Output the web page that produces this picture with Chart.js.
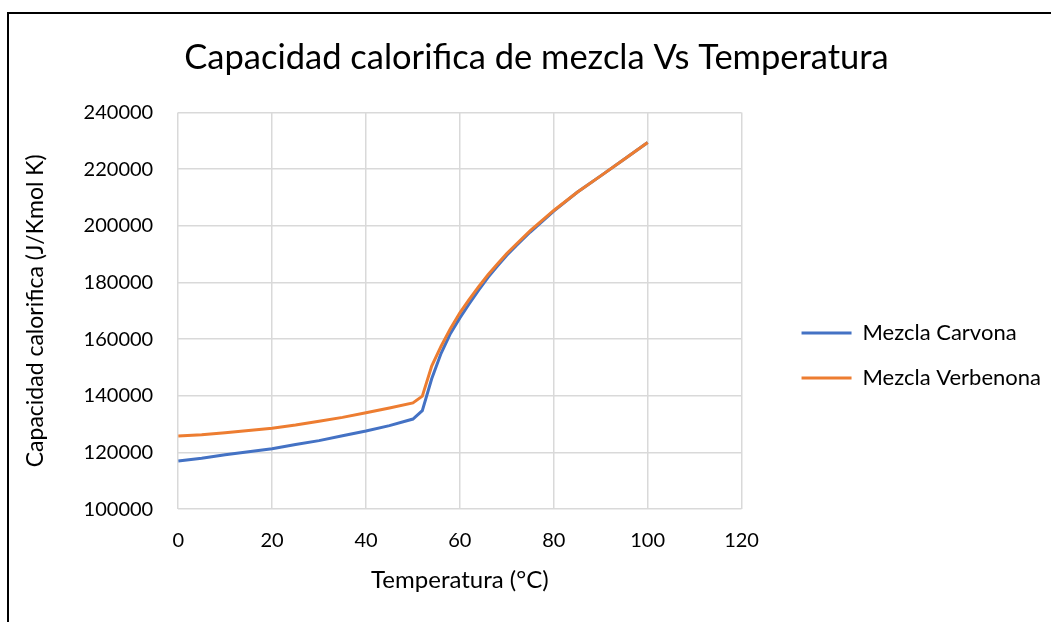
<!DOCTYPE html>
<html>
<head>
<meta charset="utf-8">
<script src="https://cdn.jsdelivr.net/npm/chart.js@4"></script>
<style>
  html, body { margin: 0; padding: 0; background: #fff; }
  #wrap { position: relative; width: 1051px; height: 622px; overflow: hidden; }
  #frame {
    position: absolute; left: 7px; top: 12px; width: 1060px; height: 640px;
    border: 2px solid #000; box-sizing: border-box; pointer-events: none;
  }
</style>
</head>
<body>
<div id="wrap">
  <canvas id="cpChart" width="1051" height="622"></canvas>
  <div id="frame"></div>
</div>
<script>
// ======================== DATA ========================
const temperatures = [0, 5, 10, 15, 20, 25, 30, 35, 40, 45, 50, 52, 54, 56, 58, 60, 62, 64, 66, 68, 70, 72, 75, 80, 85, 90, 95, 100];
const carvona = [117000, 118000, 119200, 120300, 121300, 122800, 124200, 125900, 127600, 129500, 131800, 134800, 146000, 155000, 162000, 167500, 172500, 177300, 181800, 185800, 189600, 193000, 197800, 205200, 211800, 217600, 223500, 229400];
const verbenona = [125800, 126300, 127000, 127800, 128600, 129700, 131000, 132400, 134000, 135700, 137500, 139900, 150500, 157500, 163800, 169300, 174000, 178500, 182700, 186500, 190200, 193500, 198300, 205400, 211800, 217600, 223500, 229400];
const seriesNames = ["Mezcla Carvona", "Mezcla Verbenona"];
const xTicks = [0, 20, 40, 60, 80, 100, 120];
const yTicks = [100000, 120000, 140000, 160000, 180000, 200000, 220000, 240000];

const FONT = "Lato, 'Open Sans', sans-serif";

// build points for the scatter datasets
function toPoints(xs, ys) {
  return xs.map((x, i) => ({ x: x, y: ys[i] }));
}

// ======================== CHART ========================
const ctx = document.getElementById("cpChart").getContext("2d");
new Chart(ctx, {
  type: "scatter",
  data: {
    datasets: [
      {
        label: seriesNames[0],
        data: toPoints(temperatures, carvona),
        showLine: true,
        borderColor: "#4472C4",
        backgroundColor: "#4472C4",
        borderWidth: 3,
        pointRadius: 0,
        order: 1,
      },
      {
        label: seriesNames[1],
        data: toPoints(temperatures, verbenona),
        showLine: true,
        borderColor: "#ED7D31",
        backgroundColor: "#ED7D31",
        borderWidth: 3,
        pointRadius: 0,
        order: 0,
      },
    ],
  },
  options: {
    responsive: false,
    animation: false,
    layout: { padding: { left: 22, right: 0, top: 28, bottom: 27 } },
    plugins: {
      title: {
        display: true,
        text: "Capacidad calorifica de mezcla Vs Temperatura",
        color: "#000",
        font: { family: FONT, size: 34.5, weight: "normal" },
        padding: { top: 9, bottom: 34 },
      },
      legend: {
        position: "right",
        maxWidth: 400,
        title: { display: true, text: " ", font: { size: 10 }, padding: { top: 76, bottom: 0 } },
        labels: {
          usePointStyle: true,
          pointStyle: "line",
          pointStyleWidth: 50,
          color: "#000",
          font: { family: FONT, size: 22 },
          padding: 23,
          sort: (a, b) => a.datasetIndex - b.datasetIndex,
        },
      },
      tooltip: { enabled: false },
    },
    scales: {
      x: {
        type: "linear",
        min: 0,
        max: 120,
        afterBuildTicks: (axis) => { axis.ticks = xTicks.map((v) => ({ value: v })); },
        grid: { color: "#d9d9d9", lineWidth: 1.5, drawTicks: false },
        border: { display: false },
        ticks: { color: "#000", font: { family: FONT, size: 20 }, padding: 19 },
        title: {
          display: true,
          text: "Temperatura (°C)",
          color: "#000",
          font: { family: FONT, size: 24 },
          padding: { top: -5, bottom: 0 },
        },
      },
      y: {
        type: "linear",
        min: 100000,
        max: 240000,
        afterBuildTicks: (axis) => { axis.ticks = yTicks.map((v) => ({ value: v })); },
        grid: { color: "#d9d9d9", lineWidth: 1.5, drawTicks: false },
        border: { display: false },
        ticks: { color: "#000", font: { family: FONT, size: 20 }, padding: 25, callback: (v) => String(v) },
        title: {
          display: true,
          text: "Capacidad calorifica (J/Kmol K)",
          color: "#000",
          font: { family: FONT, size: 23 },
          padding: { top: 0, bottom: 9 },
        },
      },
      // empty spacer between plot area and legend
      yGap: {
        type: "linear",
        position: "right",
        display: true,
        grid: { display: false },
        border: { display: false },
        ticks: { display: false },
        afterFit: (axis) => { axis.width = 37; },
      },
    },
  },
});
</script>
</body>
</html>
